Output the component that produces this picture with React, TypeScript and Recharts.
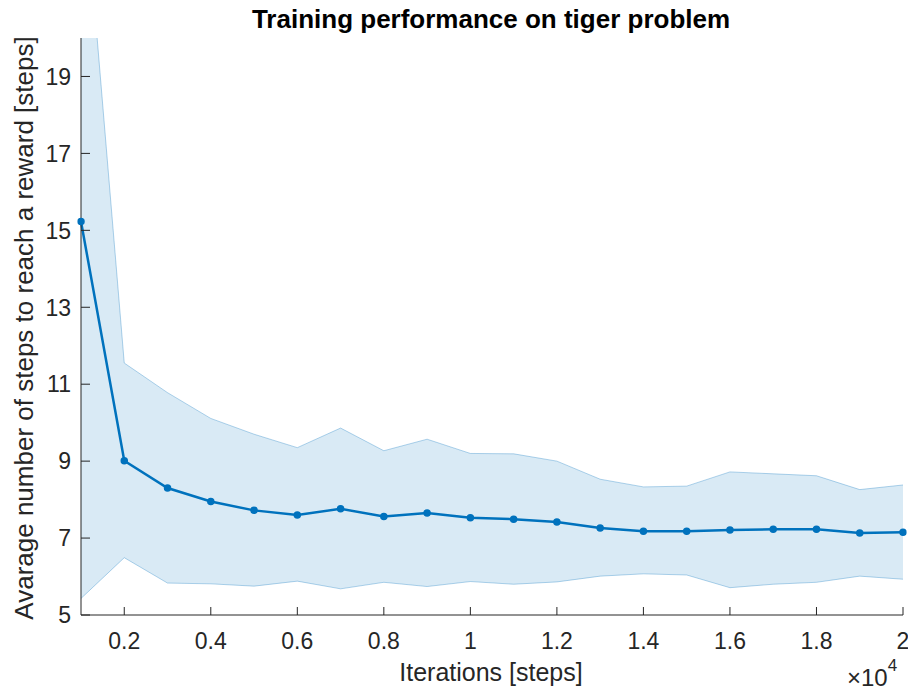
import { ComposedChart, Area, Line, XAxis, YAxis } from "recharts"

// iterations (steps), mean and the shaded band around it
const iterations = [1000, 2000, 3000, 4000, 5000, 6000, 7000, 8000, 9000, 10000, 11000, 12000, 13000, 14000, 15000, 16000, 17000, 18000, 19000, 20000]
const meanSteps = [15.23, 9.01, 8.3, 7.95, 7.72, 7.6, 7.76, 7.56, 7.65, 7.53, 7.49, 7.42, 7.26, 7.18, 7.18, 7.21, 7.23, 7.23, 7.13, 7.15]
const upperSteps = [25.03, 11.55, 10.78, 10.11, 9.7, 9.35, 9.86, 9.27, 9.57, 9.2, 9.19, 9.0, 8.53, 8.33, 8.35, 8.72, 8.67, 8.62, 8.26, 8.38]
const lowerSteps = [5.43, 6.49, 5.83, 5.81, 5.75, 5.88, 5.68, 5.85, 5.74, 5.87, 5.8, 5.86, 6.01, 6.07, 6.04, 5.71, 5.8, 5.85, 6.01, 5.93]

const xTicks = [2000, 4000, 6000, 8000, 10000, 12000, 14000, 16000, 18000, 20000]
const yTicks = [5, 7, 9, 11, 13, 15, 17, 19]

const data = iterations.map((it, i) => ({
  it,
  mean: meanSteps[i],
  band: [lowerSteps[i], upperSteps[i]],
}))

const AXIS = "#262626"
const BLUE = "#0072BD"
const FONT = "'Liberation Sans', Arial, Helvetica, sans-serif"

const fmtX = (v: number) => String(parseFloat((v / 10000).toFixed(1)))

function BottomTick({ x, y, payload }: any) {
  return (
    <g>
      <line x1={x} y1={y} x2={x} y2={y - 8} stroke={AXIS} strokeWidth={1} />
      <text x={x} y={y + 34} textAnchor="middle" fill={AXIS} fontSize={23} fontFamily={FONT}>
        {fmtX(payload.value)}
      </text>
    </g>
  )
}

function TopTick({ x, y }: any) {
  return <line x1={x} y1={y} x2={x} y2={y + 8} stroke={AXIS} strokeWidth={1} />
}

function LeftTick({ x, y, payload }: any) {
  return (
    <g>
      <line x1={x} y1={y} x2={x + 9} y2={y} stroke={AXIS} strokeWidth={1} />
      <text x={x - 10} y={y} dy="0.36em" textAnchor="end" fill={AXIS} fontSize={23} fontFamily={FONT}>
        {payload.value}
      </text>
    </g>
  )
}

function RightTick({ x, y }: any) {
  return <line x1={x} y1={y} x2={x - 9} y2={y} stroke={AXIS} strokeWidth={1} />
}

export default function App() {
  return (
    <div style={{ position: "absolute", left: 0, top: 0, width: 908, height: 690, background: "#fff" }}>
      <ComposedChart width={908} height={690} data={data} margin={{ top: 38, right: 5, bottom: 0, left: 0 }}>
        <XAxis
          xAxisId="bottom"
          dataKey="it"
          type="number"
          domain={[1000, 20000]}
          ticks={xTicks}
          height={75}
          tickSize={0}
          tickMargin={0}
          tickLine={false}
          axisLine={{ stroke: AXIS }}
          tick={<BottomTick />}
          interval={0}
        />
        <XAxis
          xAxisId="top"
          orientation="top"
          dataKey="it"
          type="number"
          domain={[1000, 20000]}
          ticks={xTicks}
          height={0}
          tickSize={0}
          tickMargin={0}
          tickLine={false}
          axisLine={{ stroke: AXIS }}
          tick={<TopTick />}
          interval={0}
        />
        <YAxis
          yAxisId="left"
          type="number"
          domain={[5, 20]}
          ticks={yTicks}
          allowDataOverflow
          width={81}
          tickSize={0}
          tickMargin={0}
          tickLine={false}
          axisLine={{ stroke: AXIS }}
          tick={<LeftTick />}
          interval={0}
        />
        <YAxis
          yAxisId="right"
          orientation="right"
          type="number"
          domain={[5, 20]}
          ticks={yTicks}
          allowDataOverflow
          width={0}
          tickSize={0}
          tickMargin={0}
          tickLine={false}
          axisLine={{ stroke: AXIS }}
          tick={<RightTick />}
          interval={0}
        />
        <Area
          xAxisId="bottom"
          yAxisId="left"
          dataKey="band"
          type="linear"
          fill={BLUE}
          fillOpacity={0.15}
          stroke={BLUE}
          strokeOpacity={0.3}
          strokeWidth={1}
          isAnimationActive={false}
        />
        <Line
          xAxisId="bottom"
          yAxisId="left"
          dataKey="mean"
          type="linear"
          stroke={BLUE}
          strokeWidth={2.5}
          dot={{ r: 3, fill: BLUE, stroke: BLUE, strokeWidth: 1.5, clipDot: false }}
          activeDot={false}
          isAnimationActive={false}
        />
      </ComposedChart>
      <svg width={908} height={690} style={{ position: "absolute", left: 0, top: 0, pointerEvents: "none" }}>
        <text x={491} y={28} textAnchor="middle" fontSize={26} fontWeight="bold" fill="#000" fontFamily={FONT}>
          Training performance on tiger problem
        </text>
        <text x={491} y={681} textAnchor="middle" fontSize={25} fill={AXIS} fontFamily={FONT}>
          Iterations [steps]
        </text>
        <text
          x={33}
          y={328}
          textAnchor="middle"
          fontSize={26}
          fill={AXIS}
          fontFamily={FONT}
          transform="rotate(-90 33 328)"
        >
          Avarage number of steps to reach a reward [steps]
        </text>
        <text x={847} y={686} fontSize={24} fill={AXIS} fontFamily={FONT}>
          ×10
          <tspan dy={-15} fontSize={17}>4</tspan>
        </text>
      </svg>
    </div>
  )
}
